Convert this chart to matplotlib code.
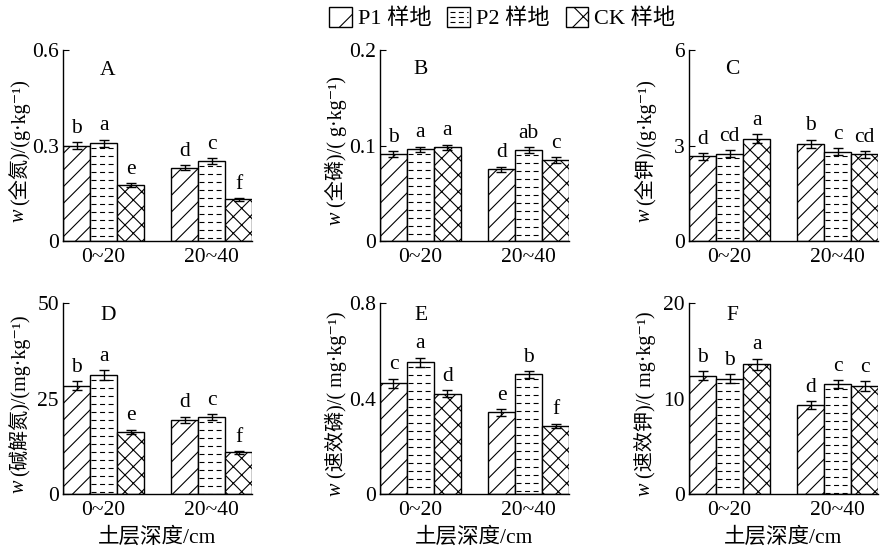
import matplotlib
matplotlib.use("Agg")
import matplotlib.pyplot as plt
import numpy as np
from matplotlib.patches import Rectangle
from matplotlib.lines import Line2D
from matplotlib.legend_handler import HandlerBase

plt.rcParams['font.family'] = ['Liberation Serif', 'Noto Sans CJK SC', 'DejaVu Serif']
plt.rcParams['hatch.linewidth'] = 0.8

# soil depth groups and plots
depths = ['0~20', '20~40']
plots = ['P1 样地', 'P2 样地', 'CK 样地']

# panel A: total N (g/kg), rows = depth, cols = P1, P2, CK
tn = [[0.300, 0.307, 0.176], [0.231, 0.252, 0.131]]
tn_err = [[0.010, 0.012, 0.006], [0.009, 0.010, 0.004]]
tn_sig = [['b', 'a', 'e'], ['d', 'c', 'f']]

# panel B: total P (g/kg)
tp = [[0.091, 0.096, 0.098], [0.075, 0.095, 0.085]]
tp_err = [[0.003, 0.003, 0.003], [0.003, 0.003, 0.003]]
tp_sig = [['b', 'a', 'a'], ['d', 'ab', 'c']]

# panel C: total K (g/kg)
tk = [[2.66, 2.75, 3.22], [3.06, 2.81, 2.73]]
tk_err = [[0.11, 0.12, 0.14], [0.13, 0.11, 0.11]]
tk_sig = [['d', 'cd', 'a'], ['b', 'c', 'cd']]

# panel D: alkali-hydrolyzable N (mg/kg)
an = [[28.4, 31.2, 16.3], [19.4, 20.2, 10.9]]
an_err = [[1.2, 1.2, 0.6], [0.9, 0.8, 0.3]]
an_sig = [['b', 'a', 'e'], ['d', 'c', 'f']]

# panel E: available P (mg/kg)
ap = [[0.464, 0.552, 0.420], [0.342, 0.501, 0.285]]
ap_err = [[0.020, 0.020, 0.015], [0.015, 0.015, 0.010]]
ap_sig = [['c', 'a', 'd'], ['e', 'b', 'f']]

# panel F: available K (mg/kg)
ak = [[12.4, 12.1, 13.6], [9.3, 11.5, 11.3]]
ak_err = [[0.5, 0.5, 0.6], [0.4, 0.4, 0.5]]
ak_sig = [['b', 'b', 'a'], ['d', 'c', 'c']]

panels = [
    ('A', tn, tn_err, tn_sig, 0.6, [0, 0.3, 0.6], ['0', '0.3', '0.6'], '(全氮)/(g·kg⁻¹)'),
    ('B', tp, tp_err, tp_sig, 0.2, [0, 0.1, 0.2], ['0', '0.1', '0.2'], '(全磷)/( g·kg⁻¹)'),
    ('C', tk, tk_err, tk_sig, 6, [0, 3, 6], ['0', '3', '6'], '(全钾)/(g·kg⁻¹)'),
    ('D', an, an_err, an_sig, 50, [0, 25, 50], ['0', '25', '50'], '(碱解氮)/(mg·kg⁻¹)'),
    ('E', ap, ap_err, ap_sig, 0.8, [0, 0.4, 0.8], ['0', '0.4', '0.8'], '(速效磷)/( mg·kg⁻¹)'),
    ('F', ak, ak_err, ak_sig, 20, [0, 10, 20], ['0', '10', '20'], '(速效钾)/( mg·kg⁻¹)'),
]
letter_pos = [(0.233, 0.895), (0.217, 0.90), (0.228, 0.90),
              (0.24, 0.937), (0.217, 0.933), (0.228, 0.937)]

hatches = ['//', None, 'xx']
bw = 0.25
fs = 15.5

fig = plt.figure(figsize=(8.8, 5.5), dpi=100)
lefts = [0.0716, 0.4318, 0.783]
bottoms = [0.5618, 0.1018]
w_ax, h_ax = 0.2148, 0.347


def dash_fill(ax, patch, ymax):
    # dashed horizontal hatch for P2 bars
    x0 = patch.get_x()
    x1 = x0 + patch.get_width()
    top = patch.get_height()
    step = ymax * 8.0 / 191
    ys = np.arange(top - step * 0.6, 0, -step)
    lc = ax.hlines(ys, x0 + 0.012, x1, colors='k', linewidth=0.8,
                   linestyles=(0, (4.5, 3.2)), zorder=2.5)
    lc.set_clip_path(patch)


for i, (lab, vals, errs, sigs, ymax, ticks, tlabs, ylab) in enumerate(panels):
    ax = fig.add_axes([lefts[i % 3], bottoms[i // 3], w_ax, h_ax])
    vals = np.array(vals)
    errs = np.array(errs)
    x = np.arange(len(depths))
    for j in range(3):
        bars = ax.bar(x + (j - 1) * bw, vals[:, j], bw, yerr=errs[:, j],
                      color='white', edgecolor='k', linewidth=1.0,
                      hatch=hatches[j], capsize=3.5,
                      error_kw=dict(elinewidth=1.0, capthick=1.0, ecolor='k'),
                      zorder=2)
        if j == 1:
            for p in bars.patches:
                dash_fill(ax, p, ymax)
        for k in range(len(depths)):
            ax.annotate(sigs[k][j], (x[k] + (j - 1) * bw, vals[k, j] + errs[k, j]),
                        xytext=(0, 3), textcoords='offset points',
                        ha='center', va='bottom', fontsize=fs)
    ax.set_xlim(-0.375, 1.375)
    ax.set_ylim(0, ymax)
    ax.set_yticks(ticks)
    ax.set_yticklabels(tlabs)
    ax.set_xticks(x)
    ax.set_xticklabels(depths)
    ax.tick_params(axis='x', length=0, labelsize=fs, pad=5)
    ax.tick_params(axis='y', direction='in', length=4, labelsize=fs, pad=3)
    for s in ['top', 'right']:
        ax.spines[s].set_visible(False)
    for s in ['left', 'bottom']:
        ax.spines[s].set_linewidth(1.0)
    ax.text(letter_pos[i][0], letter_pos[i][1], lab, transform=ax.transAxes,
            ha='center', va='center', fontsize=fs)
    ax.set_ylabel(ylab, fontsize=14.5)
    ax.yaxis.set_label_coords(-0.175, 0.52)
    ax.annotate('w', (0.5, 0), xycoords=ax.yaxis.label, xytext=(0, -3),
                textcoords='offset points', rotation=90, ha='center', va='top',
                fontsize=14.5, style='italic', family='Liberation Serif')
    if i >= 3:
        ax.set_xlabel('土层深度/cm', fontsize=fs, labelpad=5)


class DashBoxHandler(HandlerBase):
    def create_artists(self, legend, orig_handle, xdescent, ydescent,
                       width, height, fontsize, trans):
        r = Rectangle((-xdescent, -ydescent), width, height, facecolor='white',
                      edgecolor='k', linewidth=1.0, transform=trans)
        arts = [r]
        for f in (0.25, 0.5, 0.75):
            arts.append(Line2D([-xdescent + 2, -xdescent + width - 1],
                               [-ydescent + height * f] * 2, color='k',
                               linewidth=0.8, linestyle=(0, (4.5, 3)),
                               transform=trans))
        return arts


handles = [Rectangle((0, 0), 1, 1, facecolor='white', edgecolor='k', hatch='/'),
           Rectangle((0, 0), 1, 1, facecolor='white', edgecolor='k'),
           Rectangle((0, 0), 1, 1, facecolor='white', edgecolor='k', hatch='x')]
fig.legend(handles, plots, loc='center', bbox_to_anchor=(0.571, 0.967), ncol=3,
           frameon=False, fontsize=16, handlelength=1.0, handleheight=1.0,
           handletextpad=0.3, columnspacing=0.7,
           handler_map={handles[1]: DashBoxHandler()})

fig.savefig('out.png', dpi=100)
